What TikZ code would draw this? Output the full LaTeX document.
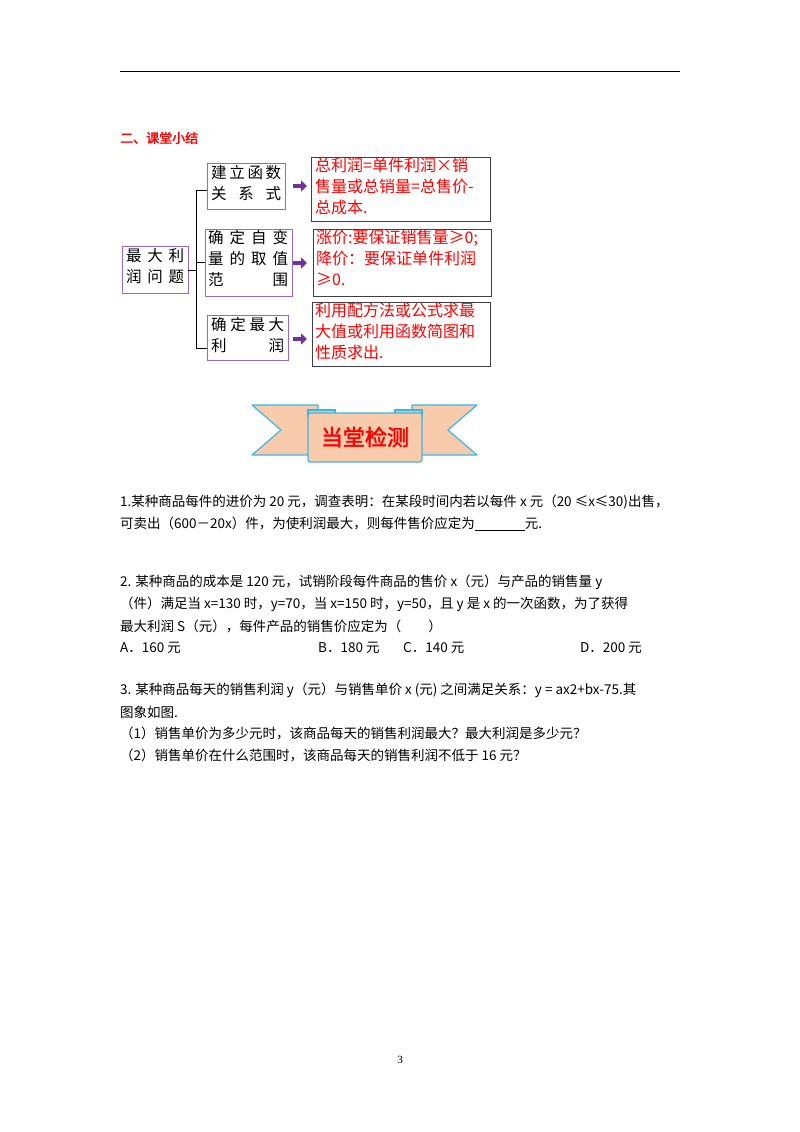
\documentclass[tikz,border=0pt]{standalone}
\usepackage{fontspec}
\setmainfont{Liberation Serif}
\newfontfamily\cjk{Noto Sans CJK SC}
\newfontfamily\cjkb[FakeBold=2]{Noto Sans CJK SC}
\usetikzlibrary{arrows.meta}
\definecolor{boxpurple}{HTML}{9966CC}
\definecolor{arrpurple}{HTML}{7030A0}
\definecolor{peach}{HTML}{F8CBAD}
\definecolor{skyb}{HTML}{3DB5E6}
\begin{document}
\begin{tikzpicture}[x=1pt,y=-1pt,
  pbox/.style={draw=boxpurple,line width=1pt},
  rbox/.style={draw=black!75,line width=1pt},
  boxtxt/.style={font=\cjk\fontsize{15.5}{21}\selectfont,anchor=north west,align=left,inner sep=0pt},
  redtxt/.style={font=\cjk\fontsize{16}{21}\selectfont,text=red,anchor=north west,align=left,inner sep=0pt},
  body/.style={font=\cjk\fontsize{13.5}{15}\selectfont,anchor=west,inner sep=0pt},
  parr/.style={-{Triangle[length=6pt,width=11pt]},line width=4.5pt,arrpurple}]
\useasboundingbox (0,0) rectangle (800,1132);
\draw[line width=1pt] (120,72) -- (680,72);
\node[font=\cjkb\fontsize{13}{15}\selectfont,text=red,anchor=west,inner sep=0pt] (title) at (120,138) {二、课堂小结};
% left box
\draw[pbox] (122,246) rectangle (188,293);
\node[boxtxt] (m) at (126,248) {\hbox to 58pt{最\hfil 大\hfil 利}\\\hbox to 58pt{润\hfil 问\hfil 题}};
% bracket
\draw[line width=1pt] (207,190) -- (196,190) -- (196,348) -- (207,348);
\draw[line width=1pt] (188,270) -- (196,270);
\draw[line width=1pt] (196,262) -- (205,262);
% middle boxes
\draw[pbox] (207,163) rectangle (285,209);
\node[boxtxt] (b1) at (211,165) {\hbox to 70pt{建\hfil 立\hfil 函\hfil 数}\\\hbox to 70pt{关\hfil 系\hfil 式}};
\draw[pbox] (205,229) rectangle (292,296);
\node[boxtxt] (b2) at (208,230) {\hbox to 80pt{确\hfil 定\hfil 自\hfil 变}\\\hbox to 80pt{量\hfil 的\hfil 取\hfil 值}\\\hbox to 80pt{范\hfil 围}};
\draw[pbox] (207,315) rectangle (288,360);
\node[boxtxt] (b3) at (211,317) {\hbox to 73pt{确\hfil 定\hfil 最\hfil 大}\\\hbox to 73pt{利\hfil 润}};
% arrows
\draw[parr] (293,186) -- (307,186);
\draw[parr] (293,263) -- (307,263);
\draw[parr] (293,339) -- (307,339);
% red boxes
\draw[rbox] (311,157) rectangle (490,221);
\node[redtxt] (r1) at (315,158) {总利润=单件利润×销\\售量或总销量=总售价-\\总成本.};
\draw[rbox] (313,229) rectangle (491,296);
\node[redtxt] (r2) at (316,230) {涨价:要保证销售量≥0;\\降价：要保证单件利润\\≥0.};
\draw[rbox] (312,302) rectangle (490,366);
\node[redtxt] (r3) at (315,303) {利用配方法或公式求最\\大值或利用函数简图和\\性质求出.};
% banner
\draw[skyb,fill=peach,line width=1.2pt,line join=round] (252,405) -- (318,405) -- (318,455) -- (252,455) -- (281,430) -- cycle;
\draw[skyb,fill=peach,line width=1.2pt,line join=round] (477,405) -- (412,405) -- (412,455) -- (477,455) -- (448,430) -- cycle;
\draw[skyb,fill=peach!85!orange,line width=1.2pt] (308,410) rectangle (335,416);
\draw[skyb,fill=peach!85!orange,line width=1.2pt] (395,410) rectangle (422,416);
\draw[skyb,fill=peach,line width=1.2pt,rounded corners=2pt] (308,413) rectangle (422,462);
\node[font=\cjkb\fontsize{22}{24}\selectfont,text=red,inner sep=0pt] (ban) at (365,437) {当堂检测};
% questions
\node[body] (q1a) at (120,502) {1.某种商品每件的进价为 20 元，调查表明：在某段时间内若以每件 x 元（20 ≤x≤30)出售，};
\node[body] (q1b) at (120,524) {可卖出（600－20x）件，为使利润最大，则每件售价应定为\underline{\hspace{50pt}}元.};
\node[body] (q2a) at (120,582) {2. 某种商品的成本是 120 元，试销阶段每件商品的售价 x（元）与产品的销售量 y};
\node[body] (q2b) at (120,604) {（件）满足当 x=130 时，y=70，当 x=150 时，y=50，且 y 是 x 的一次函数，为了获得};
\node[body] (q2c) at (120,626) {最大利润 S（元），每件产品的销售价应定为（　　）};
\node[body] (oa) at (120,648) {A．160 元};
\node[body] (ob) at (318,648) {B．180 元};
\node[body] (oc) at (403,648) {C．140 元};
\node[body] (od) at (580,648) {D．200 元};
\node[body] (q3a) at (120,690) {3. 某种商品每天的销售利润 y（元）与销售单价 x (元) 之间满足关系：y = ax2+bx-75.其};
\node[body] (q3b) at (120,712) {图象如图.};
\node[body] (q3c) at (120,733) {（1）销售单价为多少元时，该商品每天的销售利润最大？最大利润是多少元？};
\node[body] (q3d) at (120,755) {（2）销售单价在什么范围时，该商品每天的销售利润不低于 16 元？};
\node[font=\fontsize{11}{12}\selectfont,inner sep=0pt] (pg) at (400,1060) {3};
\end{tikzpicture}
\end{document}
